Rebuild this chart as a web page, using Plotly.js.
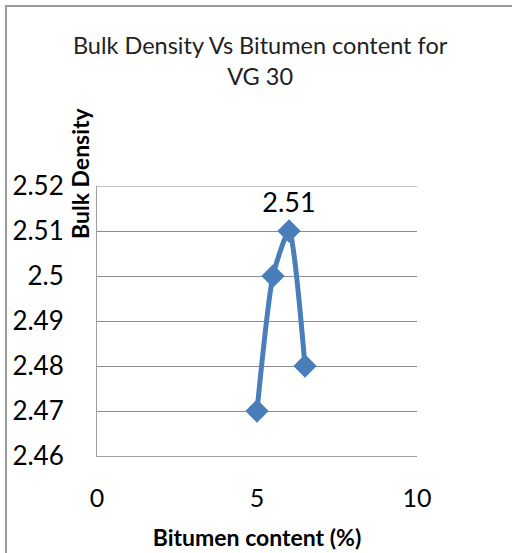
<!DOCTYPE html>
<html>
<head>
<meta charset="utf-8">
<script src="https://cdn.plot.ly/plotly-3.0.1.min.js"></script>
<style>
  html, body { margin: 0; padding: 0; background: #ffffff; }
  #wrap { position: relative; width: 512px; height: 553px; overflow: hidden; }
  #frame { position: absolute; left: 5px; top: 5px; width: 600px; height: 600px;
           border-left: 2px solid #9a9a9a; border-top: 2px solid #9a9a9a; box-sizing: border-box; pointer-events: none; }
  #chart { position: absolute; left: 0; top: 0; width: 512px; height: 553px; }
</style>
</head>
<body>
<div id="wrap">
  <div id="chart"></div>
  <div id="frame"></div>
</div>
<script>
const bitumenContent = [5, 5.5, 6, 6.5];
const bulkDensity = [2.47, 2.50, 2.51, 2.48];
const pointLabels = ["", "", "2.51", ""];
const xTicks = [0, 5, 10];
const yTicks = [2.46, 2.47, 2.48, 2.49, 2.5, 2.51, 2.52];
const yTickText = ["2.46", "2.47", "2.48", "2.49", "2.5", "2.51", "2.52"];
const chartTitle = "Bulk Density Vs Bitumen content for<br>VG 30";
const xTitle = "Bitumen content (%)";
const yTitle = "Bulk Density";

const FONT = "Lato, 'Liberation Sans', sans-serif";
const yMin = yTicks[0], yMax = yTicks[yTicks.length - 1];

const trace = {
  x: bitumenContent,
  y: bulkDensity,
  mode: "lines+markers+text",
  text: pointLabels,
  textposition: "top center",
  textfont: { family: FONT, size: 27, color: "#000000" },
  line: { color: "#4a7ebb", width: 5, shape: "spline", smoothing: 0.6 },
  marker: { symbol: "diamond", size: 18, color: "#4a7ebb" },
  cliponaxis: false,
  hoverinfo: "x+y"
};

const layout = {
  width: 512,
  height: 553,
  margin: { l: 97, r: 95, t: 186, b: 97, pad: 0 },
  paper_bgcolor: "#ffffff",
  plot_bgcolor: "#ffffff",
  showlegend: false,
  title: {
    text: chartTitle,
    font: { family: FONT, size: 23.5, color: "#222222" },
    x: 0.508, xanchor: "center",
    y: 1 - 54 / 553, yanchor: "middle"
  },
  xaxis: {
    range: [0, 10],
    tickvals: xTicks,
    ticktext: xTicks.map(String),
    ticks: "",
    ticklabelstandoff: 20,
    tickfont: { family: FONT, size: 25, color: "#000000" },
    showgrid: false,
    zeroline: false,
    showline: true,
    linecolor: "#a0a0a0",
    linewidth: 1,
    title: { text: "<b>" + xTitle + "</b>", font: { family: FONT, size: 23, color: "#000000" }, standoff: 18 }
  },
  yaxis: {
    range: [yMin, yMax],
    tickvals: yTicks,
    ticktext: yTickText,
    ticks: "",
    ticklabelstandoff: 27,
    tickfont: { family: FONT, size: 26, color: "#000000" },
    showgrid: true,
    gridcolor: "#8c8c8c",
    gridwidth: 1,
    zeroline: false,
    showline: true,
    linecolor: "#a0a0a0",
    linewidth: 1
  },
  shapes: [
    { type: "line", xref: "paper", yref: "y", x0: 0, x1: 1, y0: yMax, y1: yMax,
      line: { color: "#8c8c8c", width: 1 }, layer: "below" }
  ],
  annotations: [
    {
      text: "<b>" + yTitle + "</b>",
      xref: "paper", yref: "paper",
      x: -17 / 320, y: (456 - 173) / 270,
      xanchor: "center", yanchor: "middle",
      textangle: -90,
      showarrow: false,
      font: { family: FONT, size: 23, color: "#000000" }
    }
  ]
};

Plotly.newPlot("chart", [trace], layout, { staticPlot: true, displayModeBar: false });
</script>
</body>
</html>
